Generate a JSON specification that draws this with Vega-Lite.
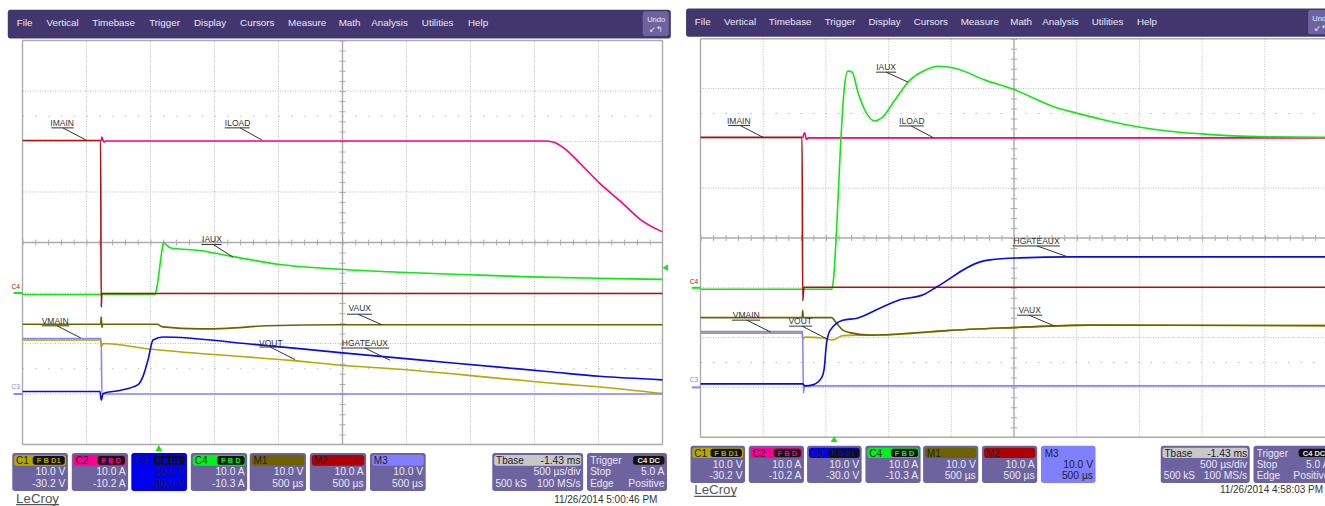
{"$schema":"https://vega.github.io/schema/vega-lite/v6.json","padding":0,"spacing":0,"background":"white","config":{"view":{"stroke":null},"text":{"font":"Liberation Sans","baseline":"alphabetic"}},
"datasets":{
"rects":[
{"p":"L","x":-0.23,"x2":10.13,"y":4.61,"y2":4.04,"c":"menu"},{"p":"R","x":-0.23,"x2":10.4,"y":4.61,"y2":4.04,"c":"menu"},
{"p":"B","x":9.69,"x2":10.1,"y":4.58,"y2":4.09,"c":"body"},
{"p":"B","x":-0.16,"x2":0.71,"y":-4.17,"y2":-4.92,"c":"body"},{"p":"B","x":0.77,"x2":1.65,"y":-4.17,"y2":-4.92,"c":"body"},{"p":"R","x":1.7,"x2":2.57,"y":-4.17,"y2":-4.92,"c":"body"},{"p":"L","x":1.7,"x2":2.57,"y":-4.17,"y2":-4.92,"c":"C3"},{"p":"B","x":2.63,"x2":3.51,"y":-4.17,"y2":-4.92,"c":"body"},{"p":"B","x":3.55,"x2":4.43,"y":-4.17,"y2":-4.92,"c":"body"},{"p":"B","x":4.49,"x2":5.37,"y":-4.17,"y2":-4.92,"c":"body"},{"p":"L","x":5.43,"x2":6.3,"y":-4.17,"y2":-4.92,"c":"body"},{"p":"R","x":5.43,"x2":6.3,"y":-4.17,"y2":-4.92,"c":"M3"},{"p":"B","x":7.34,"x2":8.76,"y":-4.17,"y2":-4.92,"c":"body"},{"p":"B","x":8.82,"x2":10.07,"y":-4.17,"y2":-4.92,"c":"body"},
{"p":"B","x":-0.13,"x2":0.68,"y":-4.21,"y2":-4.42,"c":"C1"},{"p":"B","x":0.8,"x2":1.62,"y":-4.21,"y2":-4.42,"c":"C2"},{"p":"B","x":1.73,"x2":2.54,"y":-4.21,"y2":-4.42,"c":"C3"},{"p":"B","x":2.66,"x2":3.48,"y":-4.21,"y2":-4.42,"c":"C4"},{"p":"B","x":3.58,"x2":4.4,"y":-4.21,"y2":-4.42,"c":"M1"},{"p":"B","x":4.52,"x2":5.34,"y":-4.21,"y2":-4.42,"c":"M2"},{"p":"B","x":5.46,"x2":6.27,"y":-4.21,"y2":-4.42,"c":"M3"},{"p":"B","x":7.37,"x2":8.73,"y":-4.21,"y2":-4.42,"c":"hdr"},
{"p":"B","x":0.16,"x2":0.66,"y":-4.23,"y2":-4.4,"c":"badge"},{"p":"B","x":1.17,"x2":1.6,"y":-4.23,"y2":-4.4,"c":"badge"},{"p":"B","x":2.04,"x2":2.53,"y":-4.23,"y2":-4.4,"c":"badge"},{"p":"B","x":3.04,"x2":3.47,"y":-4.23,"y2":-4.4,"c":"badge"},{"p":"B","x":9.54,"x2":10.03,"y":-4.23,"y2":-4.4,"c":"badge"}
],
"rules":[
{"k":"grid","x":1,"x2":1,"y":-4,"y2":4},{"k":"grid","x":2,"x2":2,"y":-4,"y2":4},{"k":"grid","x":3,"x2":3,"y":-4,"y2":4},{"k":"grid","x":4,"x2":4,"y":-4,"y2":4},{"k":"grid","x":6,"x2":6,"y":-4,"y2":4},{"k":"grid","x":7,"x2":7,"y":-4,"y2":4},{"k":"grid","x":8,"x2":8,"y":-4,"y2":4},{"k":"grid","x":9,"x2":9,"y":-4,"y2":4},
{"k":"grid","x":0,"x2":10,"y":3,"y2":3},{"k":"grid","x":0,"x2":10,"y":2,"y2":2},{"k":"grid","x":0,"x2":10,"y":1,"y2":1},{"k":"grid","x":0,"x2":10,"y":-1,"y2":-1},{"k":"grid","x":0,"x2":10,"y":-2,"y2":-2},{"k":"grid","x":0,"x2":10,"y":-3,"y2":-3},
{"k":"frame","x":0,"x2":10,"y":4,"y2":4},{"k":"frame","x":0,"x2":10,"y":-4,"y2":-4},{"k":"frame","x":0,"x2":0,"y":-4,"y2":4},{"k":"frame","x":10,"x2":10,"y":-4,"y2":4},{"k":"frame","x":5,"x2":5,"y":-4,"y2":4},{"k":"frame","x":0,"x2":10,"y":0,"y2":0},
{"k":"tickh","x":0,"x2":10,"y":0,"y2":0},{"k":"tickv","x":5,"x2":5,"y":4,"y2":-4},
{"k":"dots","x":0,"x2":10,"y":2.5,"y2":2.5},{"k":"dots","x":0,"x2":10,"y":-2.5,"y2":-2.5},
{"p":"L","k":"anno","x":0.45,"x2":0.8,"y":2.27,"y2":2.27},{"p":"L","k":"anno","x":0.63,"x2":0.99,"y":2.27,"y2":2.03},
{"p":"L","k":"anno","x":3.16,"x2":3.55,"y":2.27,"y2":2.27},{"p":"L","k":"anno","x":3.4,"x2":3.74,"y":2.27,"y2":2.03},
{"p":"L","k":"anno","x":2.8,"x2":3.11,"y":-0.04,"y2":-0.04},{"p":"L","k":"anno","x":2.98,"x2":3.29,"y":-0.04,"y2":-0.29},
{"p":"L","k":"anno","x":0.3,"x2":0.73,"y":-1.65,"y2":-1.65},{"p":"L","k":"anno","x":0.54,"x2":0.91,"y":-1.65,"y2":-1.89},
{"p":"L","k":"anno","x":3.7,"x2":4.05,"y":-2.07,"y2":-2.07},{"p":"L","k":"anno","x":3.87,"x2":4.26,"y":-2.07,"y2":-2.32},
{"p":"L","k":"anno","x":5.07,"x2":5.46,"y":-1.42,"y2":-1.42},{"p":"L","k":"anno","x":5.24,"x2":5.62,"y":-1.42,"y2":-1.63},
{"p":"L","k":"anno","x":4.98,"x2":5.73,"y":-2.09,"y2":-2.09},{"p":"L","k":"anno","x":5.35,"x2":5.74,"y":-2.09,"y2":-2.33},
{"p":"R","k":"anno","x":0.44,"x2":0.79,"y":2.26,"y2":2.26},{"p":"R","k":"anno","x":0.63,"x2":1.0,"y":2.26,"y2":2.02},
{"p":"R","k":"anno","x":2.8,"x2":3.12,"y":3.33,"y2":3.33},{"p":"R","k":"anno","x":2.96,"x2":3.31,"y":3.33,"y2":3.13},
{"p":"R","k":"anno","x":3.17,"x2":3.56,"y":2.25,"y2":2.25},{"p":"R","k":"anno","x":3.36,"x2":3.72,"y":2.25,"y2":2.01},
{"p":"R","k":"anno","x":4.98,"x2":5.73,"y":-0.16,"y2":-0.16},{"p":"R","k":"anno","x":5.37,"x2":5.86,"y":-0.16,"y2":-0.38},
{"p":"R","k":"anno","x":5.05,"x2":5.45,"y":-1.55,"y2":-1.55},{"p":"R","k":"anno","x":5.24,"x2":5.65,"y":-1.55,"y2":-1.77},
{"p":"R","k":"anno","x":0.5,"x2":0.95,"y":-1.65,"y2":-1.65},{"p":"R","k":"anno","x":0.74,"x2":1.12,"y":-1.65,"y2":-1.89},
{"p":"R","k":"anno","x":1.41,"x2":1.78,"y":-1.77,"y2":-1.77},{"p":"R","k":"anno","x":1.62,"x2":2.02,"y":-1.77,"y2":-2.03},
{"k":"logo","x":-0.1,"x2":0.57,"y":-5.19,"y2":-5.19}
],
"tags":[
{"x":-0.14,"x2":0,"y":-1.0,"y2":-1.0,"c":"IAUX"},{"x":-0.14,"x2":0,"y":-3.0,"y2":-3.0,"c":"VMAIN"}
],
"texts":[
{"k":"menu","p":"B","x":-0.09,"y":4.28,"t":"File","c":"white"},{"k":"menu","p":"B","x":0.375,"y":4.28,"t":"Vertical","c":"white"},{"k":"menu","p":"B","x":1.09,"y":4.28,"t":"Timebase","c":"white"},{"k":"menu","p":"B","x":1.98,"y":4.28,"t":"Trigger","c":"white"},{"k":"menu","p":"B","x":2.68,"y":4.28,"t":"Display","c":"white"},{"k":"menu","p":"B","x":3.4,"y":4.28,"t":"Cursors","c":"white"},{"k":"menu","p":"B","x":4.15,"y":4.28,"t":"Measure","c":"white"},{"k":"menu","p":"B","x":4.94,"y":4.28,"t":"Math","c":"white"},{"k":"menu","p":"B","x":5.45,"y":4.28,"t":"Analysis","c":"white"},{"k":"menu","p":"B","x":6.24,"y":4.28,"t":"Utilities","c":"white"},{"k":"menu","p":"B","x":6.96,"y":4.28,"t":"Help","c":"white"},
{"k":"undo","p":"B","x":9.9,"y":4.36,"t":"Undo","c":"white"},{"k":"undo","p":"B","x":9.9,"y":4.16,"t":"↙↰","c":"white"},
{"k":"boxl","p":"B","x":-0.1,"y":-4.39,"t":"C1","c":"dark"},{"k":"boxl","p":"B","x":0.83,"y":-4.39,"t":"C2","c":"dark"},{"k":"boxl","p":"B","x":1.76,"y":-4.39,"t":"C3","c":"dark"},{"k":"boxl","p":"B","x":2.69,"y":-4.39,"t":"C4","c":"dark"},{"k":"boxl","p":"B","x":3.61,"y":-4.39,"t":"M1","c":"dark"},{"k":"boxl","p":"B","x":4.55,"y":-4.39,"t":"M2","c":"dark"},{"k":"boxl","p":"B","x":5.49,"y":-4.39,"t":"M3","c":"dark"},{"k":"boxl","p":"B","x":7.4,"y":-4.39,"t":"Tbase","c":"dark"},{"k":"boxl","p":"B","x":8.87,"y":-4.39,"t":"Trigger","c":"white"},{"k":"boxl","p":"B","x":7.39,"y":-4.84,"t":"500 kS","c":"white"},{"k":"boxl","p":"B","x":8.87,"y":-4.61,"t":"Stop","c":"white"},{"k":"boxl","p":"B","x":8.87,"y":-4.84,"t":"Edge","c":"white"},
{"k":"boxr","p":"B","x":0.67,"y":-4.61,"t":"10.0 V","c":"white"},{"k":"boxr","p":"B","x":0.67,"y":-4.84,"t":"-30.2 V","c":"white"},
{"k":"boxr","p":"B","x":1.61,"y":-4.61,"t":"10.0 A","c":"white"},{"k":"boxr","p":"B","x":1.61,"y":-4.84,"t":"-10.2 A","c":"white"},
{"k":"boxr","p":"L","x":2.53,"y":-4.61,"t":"10.0 V","c":"dark"},{"k":"boxr","p":"L","x":2.53,"y":-4.84,"t":"-30.0 V","c":"dark"},
{"k":"boxr","p":"R","x":2.53,"y":-4.61,"t":"10.0 V","c":"white"},{"k":"boxr","p":"R","x":2.53,"y":-4.84,"t":"-30.0 V","c":"white"},
{"k":"boxr","p":"B","x":3.47,"y":-4.61,"t":"10.0 A","c":"white"},{"k":"boxr","p":"B","x":3.47,"y":-4.84,"t":"-10.3 A","c":"white"},
{"k":"boxr","p":"B","x":4.39,"y":-4.61,"t":"10.0 V","c":"white"},{"k":"boxr","p":"B","x":4.39,"y":-4.84,"t":"500 µs","c":"white"},
{"k":"boxr","p":"B","x":5.33,"y":-4.61,"t":"10.0 A","c":"white"},{"k":"boxr","p":"B","x":5.33,"y":-4.84,"t":"500 µs","c":"white"},
{"k":"boxr","p":"L","x":6.26,"y":-4.61,"t":"10.0 V","c":"white"},{"k":"boxr","p":"L","x":6.26,"y":-4.84,"t":"500 µs","c":"white"},
{"k":"boxr","p":"R","x":6.26,"y":-4.61,"t":"10.0 V","c":"dark"},{"k":"boxr","p":"R","x":6.26,"y":-4.84,"t":"500 µs","c":"dark"},
{"k":"boxr","p":"B","x":8.72,"y":-4.39,"t":"-1.43 ms","c":"dark"},{"k":"boxr","p":"B","x":8.72,"y":-4.61,"t":"500 µs/div","c":"white"},{"k":"boxr","p":"B","x":8.72,"y":-4.84,"t":"100 MS/s","c":"white"},
{"k":"boxr","p":"B","x":10.03,"y":-4.61,"t":"5.0 A","c":"white"},{"k":"boxr","p":"B","x":10.03,"y":-4.84,"t":"Positive","c":"white"},
{"k":"badge","p":"B","x":0.41,"y":-4.37,"t":"F B D1","c":"C1"},{"k":"badge","p":"B","x":1.385,"y":-4.37,"t":"F B D","c":"C2"},{"k":"badge","p":"B","x":2.285,"y":-4.37,"t":"F B D1","c":"C3"},{"k":"badge","p":"B","x":3.255,"y":-4.37,"t":"F B D","c":"C4"},{"k":"badge","p":"B","x":9.785,"y":-4.37,"t":"C4 DC","c":"white"},
{"k":"anno","p":"L","x":0.62,"y":2.31,"t":"IMAIN","c":"anno"},{"k":"anno","p":"L","x":3.36,"y":2.31,"t":"ILOAD","c":"anno"},{"k":"anno","p":"L","x":2.96,"y":0.01,"t":"IAUX","c":"anno"},{"k":"anno","p":"L","x":0.51,"y":-1.61,"t":"VMAIN","c":"anno"},{"k":"anno","p":"L","x":3.88,"y":-2.04,"t":"VOUT","c":"anno"},{"k":"anno","p":"L","x":5.27,"y":-1.36,"t":"VAUX","c":"anno"},{"k":"anno","p":"L","x":5.35,"y":-2.05,"t":"HGATEAUX","c":"anno"},
{"k":"anno","p":"R","x":0.61,"y":2.29,"t":"IMAIN","c":"anno"},{"k":"anno","p":"R","x":2.96,"y":3.37,"t":"IAUX","c":"anno"},{"k":"anno","p":"R","x":3.37,"y":2.29,"t":"ILOAD","c":"anno"},{"k":"anno","p":"R","x":5.36,"y":-0.12,"t":"HGATEAUX","c":"anno"},{"k":"anno","p":"R","x":5.25,"y":-1.51,"t":"VAUX","c":"anno"},{"k":"anno","p":"R","x":0.73,"y":-1.6,"t":"VMAIN","c":"anno"},{"k":"anno","p":"R","x":1.59,"y":-1.73,"t":"VOUT","c":"anno"},
{"k":"logo","p":"B","x":-0.1,"y":-5.15,"t":"LeCroy","c":"logo"},
{"k":"date","p":"L","x":9.92,"y":-5.16,"t":"11/26/2014 5:00:46 PM","c":"anno"},{"k":"date","p":"R","x":9.93,"y":-5.12,"t":"11/26/2014 4:58:03 PM","c":"anno"},
{"k":"tag","p":"B","x":-0.17,"y":-0.92,"t":"C4","c":"IMAIN"},{"k":"tag","p":"B","x":-0.17,"y":-2.9,"t":"C3","c":"VMAIN"}
],
"markers":[
{"p":"L","x":2.13,"y":-4.07,"m":"up","c":"IAUX"},{"p":"R","x":2.13,"y":-4.04,"m":"up","c":"IAUX"},{"p":"L","x":10.04,"y":-0.5,"m":"left","c":"IAUX"}
],
"left":[
{"s":"VOUT","x":0,"y":-1.93},{"s":"VOUT","x":1.22,"y":-1.93},{"s":"VOUT","x":1.23,"y":-2.07},{"s":"VOUT","x":1.26,"y":-2.0},{"s":"VOUT","x":1.99,"y":-2.11},{"s":"VOUT","x":4.23,"y":-2.34},{"s":"VOUT","x":4.96,"y":-2.43},{"s":"VOUT","x":5.9,"y":-2.51},{"s":"VOUT","x":7.46,"y":-2.69},{"s":"VOUT","x":8.4,"y":-2.8},{"s":"VOUT","x":9.02,"y":-2.86},{"s":"VOUT","x":10,"y":-2.99},
{"s":"VAUX","x":0,"y":-1.62},{"s":"VAUX","x":1.22,"y":-1.62},{"s":"VAUX","x":1.23,"y":-1.47},{"s":"VAUX","x":1.24,"y":-1.68},{"s":"VAUX","x":1.25,"y":-1.62},{"s":"VAUX","x":2.1,"y":-1.62},{"s":"VAUX","x":2.19,"y":-1.67},{"s":"VAUX","x":2.77,"y":-1.71},{"s":"VAUX","x":3.19,"y":-1.7},{"s":"VAUX","x":3.82,"y":-1.65},{"s":"VAUX","x":4.96,"y":-1.63},{"s":"VAUX","x":10,"y":-1.63},
{"s":"VMAIN","x":0,"y":-1.9},{"s":"VMAIN","x":1.23,"y":-1.9},{"s":"VMAIN","x":1.24,"y":-3.0},{"s":"VMAIN","x":10,"y":-3.0},
{"s":"ILOAD","x":1.23,"y":2.01},{"s":"ILOAD","x":1.24,"y":2.09},{"s":"ILOAD","x":1.27,"y":1.99},{"s":"ILOAD","x":1.3,"y":2.01},{"s":"ILOAD","x":8.16,"y":2.01},{"s":"ILOAD","x":8.29,"y":1.99},{"s":"ILOAD","x":8.48,"y":1.85},{"s":"ILOAD","x":8.71,"y":1.57},{"s":"ILOAD","x":9.02,"y":1.17},{"s":"ILOAD","x":9.34,"y":0.82},{"s":"ILOAD","x":9.65,"y":0.46},{"s":"ILOAD","x":10,"y":0.21},
{"s":"IAUX","x":0,"y":-1.03},{"s":"IAUX","x":2.07,"y":-1.03},{"s":"IAUX","x":2.1,"y":-0.88},{"s":"IAUX","x":2.18,"y":-0.15},{"s":"IAUX","x":2.2,"y":-0.01},{"s":"IAUX","x":2.32,"y":-0.11},{"s":"IAUX","x":2.77,"y":-0.16},{"s":"IAUX","x":3.29,"y":-0.28},{"s":"IAUX","x":3.99,"y":-0.43},{"s":"IAUX","x":4.96,"y":-0.53},{"s":"IAUX","x":5.9,"y":-0.59},{"s":"IAUX","x":6.99,"y":-0.64},{"s":"IAUX","x":7.93,"y":-0.68},{"s":"IAUX","x":9.02,"y":-0.71},{"s":"IAUX","x":10,"y":-0.73},
{"s":"IMAIN","x":0,"y":2.02},{"s":"IMAIN","x":1.22,"y":2.02},{"s":"IMAIN","x":1.23,"y":-1.28},{"s":"IMAIN","x":1.24,"y":-1.01},{"s":"IMAIN","x":10,"y":-1.01},
{"s":"HGATEAUX","x":0,"y":-2.95},{"s":"HGATEAUX","x":1.21,"y":-2.95},{"s":"HGATEAUX","x":1.23,"y":-3.12},{"s":"HGATEAUX","x":1.26,"y":-2.99},{"s":"HGATEAUX","x":1.52,"y":-2.93},{"s":"HGATEAUX","x":1.8,"y":-2.82},{"s":"HGATEAUX","x":1.88,"y":-2.66},{"s":"HGATEAUX","x":1.96,"y":-2.33},{"s":"HGATEAUX","x":2.04,"y":-1.93},{"s":"HGATEAUX","x":2.2,"y":-1.87},{"s":"HGATEAUX","x":3.55,"y":-2.01},{"s":"HGATEAUX","x":4.96,"y":-2.18},{"s":"HGATEAUX","x":6.68,"y":-2.38},{"s":"HGATEAUX","x":8.24,"y":-2.56},{"s":"HGATEAUX","x":9.02,"y":-2.65},{"s":"HGATEAUX","x":10,"y":-2.72}
],
"right":[
{"s":"VOUT","x":0,"y":-1.91},{"s":"VOUT","x":1.62,"y":-1.91},{"s":"VOUT","x":1.63,"y":-2.03},{"s":"VOUT","x":1.67,"y":-1.99},{"s":"VOUT","x":1.95,"y":-2.01},{"s":"VOUT","x":2.1,"y":-2.05},{"s":"VOUT","x":2.27,"y":-1.96},{"s":"VOUT","x":2.5,"y":-1.95},{"s":"VOUT","x":2.86,"y":-1.95},{"s":"VOUT","x":3.39,"y":-1.91},{"s":"VOUT","x":3.93,"y":-1.86},{"s":"VOUT","x":4.98,"y":-1.8},{"s":"VOUT","x":6.21,"y":-1.75},{"s":"VOUT","x":10,"y":-1.76},
{"s":"VAUX","x":0,"y":-1.6},{"s":"VAUX","x":1.62,"y":-1.6},{"s":"VAUX","x":1.63,"y":-1.45},{"s":"VAUX","x":1.64,"y":-1.6},{"s":"VAUX","x":2.09,"y":-1.6},{"s":"VAUX","x":2.17,"y":-1.71},{"s":"VAUX","x":2.27,"y":-1.85},{"s":"VAUX","x":2.38,"y":-1.9},{"s":"VAUX","x":2.7,"y":-1.95},{"s":"VAUX","x":3.39,"y":-1.91},{"s":"VAUX","x":3.93,"y":-1.86},{"s":"VAUX","x":4.98,"y":-1.8},{"s":"VAUX","x":6.21,"y":-1.75},{"s":"VAUX","x":10,"y":-1.76},
{"s":"VMAIN","x":0,"y":-1.88},{"s":"VMAIN","x":1.63,"y":-1.88},{"s":"VMAIN","x":1.64,"y":-3.11},{"s":"VMAIN","x":1.66,"y":-2.97},{"s":"VMAIN","x":10,"y":-2.97},
{"s":"ILOAD","x":1.63,"y":2.01},{"s":"ILOAD","x":1.66,"y":2.11},{"s":"ILOAD","x":1.69,"y":1.98},{"s":"ILOAD","x":1.72,"y":2.01},{"s":"ILOAD","x":10,"y":2.01},
{"s":"IAUX","x":0,"y":-1.03},{"s":"IAUX","x":2.09,"y":-1.03},{"s":"IAUX","x":2.12,"y":-0.84},{"s":"IAUX","x":2.17,"y":0.16},{"s":"IAUX","x":2.23,"y":1.77},{"s":"IAUX","x":2.29,"y":2.97},{"s":"IAUX","x":2.35,"y":3.35},{"s":"IAUX","x":2.42,"y":3.33},{"s":"IAUX","x":2.51,"y":2.93},{"s":"IAUX","x":2.62,"y":2.57},{"s":"IAUX","x":2.78,"y":2.35},{"s":"IAUX","x":2.89,"y":2.41},{"s":"IAUX","x":3.1,"y":2.77},{"s":"IAUX","x":3.34,"y":3.17},{"s":"IAUX","x":3.58,"y":3.37},{"s":"IAUX","x":3.79,"y":3.45},{"s":"IAUX","x":4.06,"y":3.41},{"s":"IAUX","x":4.54,"y":3.17},{"s":"IAUX","x":4.98,"y":2.99},{"s":"IAUX","x":5.69,"y":2.61},{"s":"IAUX","x":5.99,"y":2.51},{"s":"IAUX","x":6.37,"y":2.39},{"s":"IAUX","x":6.99,"y":2.23},{"s":"IAUX","x":7.44,"y":2.15},{"s":"IAUX","x":8.0,"y":2.09},{"s":"IAUX","x":8.49,"y":2.05},{"s":"IAUX","x":9.04,"y":2.03},{"s":"IAUX","x":10,"y":2.02},
{"s":"IMAIN","x":0,"y":2.02},{"s":"IMAIN","x":1.62,"y":2.02},{"s":"IMAIN","x":1.63,"y":-1.26},{"s":"IMAIN","x":1.65,"y":-0.99},{"s":"IMAIN","x":10,"y":-0.99},
{"s":"HGATEAUX","x":0,"y":-2.93},{"s":"HGATEAUX","x":1.63,"y":-2.93},{"s":"HGATEAUX","x":1.67,"y":-2.97},{"s":"HGATEAUX","x":1.79,"y":-2.95},{"s":"HGATEAUX","x":1.93,"y":-2.81},{"s":"HGATEAUX","x":1.97,"y":-2.65},{"s":"HGATEAUX","x":2.01,"y":-2.11},{"s":"HGATEAUX","x":2.07,"y":-1.85},{"s":"HGATEAUX","x":2.27,"y":-1.65},{"s":"HGATEAUX","x":2.5,"y":-1.61},{"s":"HGATEAUX","x":2.86,"y":-1.41},{"s":"HGATEAUX","x":3.18,"y":-1.24},{"s":"HGATEAUX","x":3.55,"y":-1.14},{"s":"HGATEAUX","x":3.77,"y":-0.98},{"s":"HGATEAUX","x":4.46,"y":-0.48},{"s":"HGATEAUX","x":4.62,"y":-0.44},{"s":"HGATEAUX","x":5.1,"y":-0.4},{"s":"HGATEAUX","x":5.89,"y":-0.38},{"s":"HGATEAUX","x":10,"y":-0.38}
]
},
"hconcat":[
{"width":680,"height":506,
"encoding":{"x":{"field":"x","type":"quantitative","axis":null,"scale":{"domain":[-0.3516,10.2734],"nice":false,"zero":false}},"y":{"field":"y","type":"quantitative","axis":null,"scale":{"domain":[-5.218,4.802],"nice":false,"zero":false}}},
"layer":[
{"data":{"name":"rects"},"transform":[{"filter":"datum.p!='R'"}],"mark":{"type":"rect","cornerRadius":2.5},"encoding":{"x2":{"field":"x2"},"y2":{"field":"y2"},"color":{"field":"c","type":"nominal","legend":null,"scale":{"domain":["menu","body","hdr","badge","white","dark","anno","logo","grid","frame","C1","C2","C3","C4","M1","M2","M3","VOUT","ILOAD","HGATEAUX","IAUX","VAUX","IMAIN","VMAIN"],"range":["#42366F","#6D649F","#C8C8C8","#111111","#E8E8F2","#202028","#333333","#555555","#BDBDBD","#ABABAB","#B5A800","#FF0090","#0000F0","#00F020","#6E6200","#AE0000","#8080FF","#B8A800","#FF0080","#0A0AE6","#10E810","#6E6200","#B01010","#8585FF"]}}}},
{"data":{"name":"rules"},"transform":[{"filter":"datum.k=='grid'"}],"mark":{"type":"rule","color":"#BDBDBD","strokeWidth":1,"strokeDash":[1,1.5]},"encoding":{"x2":{"field":"x2"},"y2":{"field":"y2"}}},
{"data":{"name":"rules"},"transform":[{"filter":"datum.k=='dots'"}],"mark":{"type":"rule","color":"#BDBDBD","strokeWidth":1,"strokeDash":[1.5,11.3]},"encoding":{"x2":{"field":"x2"},"y2":{"field":"y2"}}},
{"data":{"name":"rules"},"transform":[{"filter":"datum.k=='frame'"}],"mark":{"type":"rule","color":"#ABABAB","strokeWidth":1.4},"encoding":{"x2":{"field":"x2"},"y2":{"field":"y2"}}},
{"data":{"name":"rules"},"transform":[{"filter":"datum.k=='tickh'"}],"mark":{"type":"rule","color":"#ABABAB","strokeWidth":6,"strokeDash":[1,11.8]},"encoding":{"x2":{"field":"x2"},"y2":{"field":"y2"}}},
{"data":{"name":"rules"},"transform":[{"filter":"datum.k=='tickv'"}],"mark":{"type":"rule","color":"#ABABAB","strokeWidth":6,"strokeDash":[1,9.1]},"encoding":{"x2":{"field":"x2"},"y2":{"field":"y2"}}},
{"data":{"name":"tags"},"mark":{"type":"rule","strokeWidth":2},"encoding":{"x2":{"field":"x2"},"y2":{"field":"y2"},"color":{"field":"c","type":"nominal","legend":null}}},
{"data":{"name":"left"},"mark":{"type":"line","strokeWidth":1.6,"interpolate":"monotone"},"encoding":{"color":{"field":"s","type":"nominal","legend":null}}},
{"data":{"name":"rules"},"transform":[{"filter":"datum.k=='anno'&&datum.p=='L'"}],"mark":{"type":"rule","color":"#333333","strokeWidth":1},"encoding":{"x2":{"field":"x2"},"y2":{"field":"y2"}}},
{"data":{"name":"rules"},"transform":[{"filter":"datum.k=='logo'"}],"mark":{"type":"rule","color":"#555555","strokeWidth":1.2},"encoding":{"x2":{"field":"x2"},"y2":{"field":"y2"}}},
{"data":{"name":"markers"},"transform":[{"filter":"datum.p=='L'"}],"mark":{"type":"point","filled":true,"size":45,"opacity":1},"encoding":{"color":{"field":"c","type":"nominal","legend":null},"shape":{"field":"m","type":"nominal","legend":null,"scale":{"domain":["up","left"],"range":["triangle-up","triangle-left"]}}}},
{"data":{"name":"texts"},"transform":[{"filter":"datum.k=='menu'"}],"mark":{"type":"text","align":"left","fontSize":9.8},"encoding":{"text":{"field":"t"},"color":{"field":"c","type":"nominal","legend":null}}},
{"data":{"name":"texts"},"transform":[{"filter":"datum.k=='undo'"}],"mark":{"type":"text","align":"center","fontSize":7.5},"encoding":{"text":{"field":"t"},"color":{"field":"c","type":"nominal","legend":null}}},
{"data":{"name":"texts"},"transform":[{"filter":"datum.k=='boxl'&&datum.p!='R'"}],"mark":{"type":"text","align":"left","fontSize":10},"encoding":{"text":{"field":"t"},"color":{"field":"c","type":"nominal","legend":null}}},
{"data":{"name":"texts"},"transform":[{"filter":"datum.k=='boxr'&&datum.p!='R'"}],"mark":{"type":"text","align":"right","fontSize":10.3},"encoding":{"text":{"field":"t"},"color":{"field":"c","type":"nominal","legend":null}}},
{"data":{"name":"texts"},"transform":[{"filter":"datum.k=='badge'"}],"mark":{"type":"text","align":"center","fontSize":7.5,"fontWeight":"bold"},"encoding":{"text":{"field":"t"},"color":{"field":"c","type":"nominal","legend":null}}},
{"data":{"name":"texts"},"transform":[{"filter":"datum.k=='anno'&&datum.p=='L'"}],"mark":{"type":"text","align":"center","fontSize":8.5},"encoding":{"text":{"field":"t"},"color":{"field":"c","type":"nominal","legend":null}}},
{"data":{"name":"texts"},"transform":[{"filter":"datum.k=='date'&&datum.p=='L'"}],"mark":{"type":"text","align":"right","fontSize":10},"encoding":{"text":{"field":"t"},"color":{"field":"c","type":"nominal","legend":null}}},
{"data":{"name":"texts"},"transform":[{"filter":"datum.k=='logo'"}],"mark":{"type":"text","align":"left","fontSize":13.3},"encoding":{"text":{"field":"t"},"color":{"field":"c","type":"nominal","legend":null}}},
{"data":{"name":"texts"},"transform":[{"filter":"datum.k=='tag'"}],"mark":{"type":"text","align":"left","fontSize":6.5},"encoding":{"text":{"field":"t"},"color":{"field":"c","type":"nominal","legend":null}}}
]},
{"width":645,"height":506,
"encoding":{"x":{"field":"x","type":"quantitative","axis":null,"scale":{"domain":[-0.327,9.96],"nice":false,"zero":false}},"y":{"field":"y","type":"quantitative","axis":null,"scale":{"domain":[-5.382,4.779],"nice":false,"zero":false}}},
"layer":[
{"data":{"name":"rects"},"transform":[{"filter":"datum.p!='L'"}],"mark":{"type":"rect","cornerRadius":2.5,"clip":true},"encoding":{"x2":{"field":"x2"},"y2":{"field":"y2"},"color":{"field":"c","type":"nominal","legend":null}}},
{"data":{"name":"rules"},"transform":[{"filter":"datum.k=='grid'"}],"mark":{"type":"rule","color":"#BDBDBD","strokeWidth":1,"strokeDash":[1,1.5],"clip":true},"encoding":{"x2":{"field":"x2"},"y2":{"field":"y2"}}},
{"data":{"name":"rules"},"transform":[{"filter":"datum.k=='dots'"}],"mark":{"type":"rule","color":"#BDBDBD","strokeWidth":1,"strokeDash":[1.5,11],"clip":true},"encoding":{"x2":{"field":"x2"},"y2":{"field":"y2"}}},
{"data":{"name":"rules"},"transform":[{"filter":"datum.k=='frame'"}],"mark":{"type":"rule","color":"#ABABAB","strokeWidth":1.4,"clip":true},"encoding":{"x2":{"field":"x2"},"y2":{"field":"y2"}}},
{"data":{"name":"rules"},"transform":[{"filter":"datum.k=='tickh'"}],"mark":{"type":"rule","color":"#ABABAB","strokeWidth":6,"strokeDash":[1,11.54],"clip":true},"encoding":{"x2":{"field":"x2"},"y2":{"field":"y2"}}},
{"data":{"name":"rules"},"transform":[{"filter":"datum.k=='tickv'"}],"mark":{"type":"rule","color":"#ABABAB","strokeWidth":6,"strokeDash":[1,8.96],"clip":true},"encoding":{"x2":{"field":"x2"},"y2":{"field":"y2"}}},
{"data":{"name":"tags"},"mark":{"type":"rule","strokeWidth":2,"clip":true},"encoding":{"x2":{"field":"x2"},"y2":{"field":"y2"},"color":{"field":"c","type":"nominal","legend":null}}},
{"data":{"name":"right"},"mark":{"type":"line","strokeWidth":1.6,"interpolate":"monotone","clip":true},"encoding":{"color":{"field":"s","type":"nominal","legend":null}}},
{"data":{"name":"rules"},"transform":[{"filter":"datum.k=='anno'&&datum.p=='R'"}],"mark":{"type":"rule","color":"#333333","strokeWidth":1},"encoding":{"x2":{"field":"x2"},"y2":{"field":"y2"}}},
{"data":{"name":"rules"},"transform":[{"filter":"datum.k=='logo'"}],"mark":{"type":"rule","color":"#555555","strokeWidth":1.2},"encoding":{"x2":{"field":"x2"},"y2":{"field":"y2"}}},
{"data":{"name":"markers"},"transform":[{"filter":"datum.p=='R'"}],"mark":{"type":"point","filled":true,"size":45,"opacity":1},"encoding":{"color":{"field":"c","type":"nominal","legend":null},"shape":{"field":"m","type":"nominal","legend":null}}},
{"data":{"name":"texts"},"transform":[{"filter":"datum.k=='menu'"}],"mark":{"type":"text","align":"left","fontSize":9.8},"encoding":{"text":{"field":"t"},"color":{"field":"c","type":"nominal","legend":null}}},
{"data":{"name":"texts"},"transform":[{"filter":"datum.k=='undo'"}],"mark":{"type":"text","align":"center","fontSize":7.5,"clip":true},"encoding":{"text":{"field":"t"},"color":{"field":"c","type":"nominal","legend":null}}},
{"data":{"name":"texts"},"transform":[{"filter":"datum.k=='boxl'&&datum.p!='L'"}],"mark":{"type":"text","align":"left","fontSize":10},"encoding":{"text":{"field":"t"},"color":{"field":"c","type":"nominal","legend":null}}},
{"data":{"name":"texts"},"transform":[{"filter":"datum.k=='boxr'&&datum.p!='L'"}],"mark":{"type":"text","align":"right","fontSize":10.3,"clip":true},"encoding":{"text":{"field":"t"},"color":{"field":"c","type":"nominal","legend":null}}},
{"data":{"name":"texts"},"transform":[{"filter":"datum.k=='badge'"}],"mark":{"type":"text","align":"center","fontSize":7.5,"fontWeight":"bold","clip":true},"encoding":{"text":{"field":"t"},"color":{"field":"c","type":"nominal","legend":null}}},
{"data":{"name":"texts"},"transform":[{"filter":"datum.k=='anno'&&datum.p=='R'"}],"mark":{"type":"text","align":"center","fontSize":8.5},"encoding":{"text":{"field":"t"},"color":{"field":"c","type":"nominal","legend":null}}},
{"data":{"name":"texts"},"transform":[{"filter":"datum.k=='date'&&datum.p=='R'"}],"mark":{"type":"text","align":"right","fontSize":10},"encoding":{"text":{"field":"t"},"color":{"field":"c","type":"nominal","legend":null}}},
{"data":{"name":"texts"},"transform":[{"filter":"datum.k=='logo'"}],"mark":{"type":"text","align":"left","fontSize":13.3},"encoding":{"text":{"field":"t"},"color":{"field":"c","type":"nominal","legend":null}}},
{"data":{"name":"texts"},"transform":[{"filter":"datum.k=='tag'"}],"mark":{"type":"text","align":"left","fontSize":6.5},"encoding":{"text":{"field":"t"},"color":{"field":"c","type":"nominal","legend":null}}}
]}
]}
